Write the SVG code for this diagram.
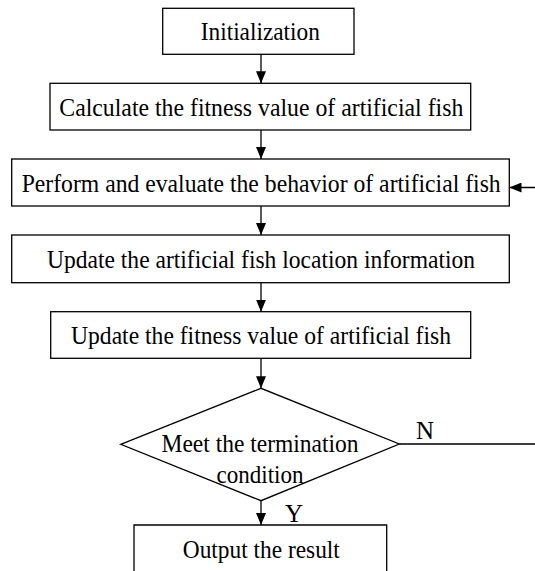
<svg xmlns="http://www.w3.org/2000/svg" width="535" height="571" viewBox="0 0 535 571" font-family="'Liberation Serif', 'Times New Roman', 'DejaVu Serif', serif">
<defs>
<marker id="ah" viewBox="0 0 12 10" refX="12" refY="5" markerWidth="12" markerHeight="10" markerUnits="userSpaceOnUse" orient="auto">
<path d="M0,0 L12,5 L0,10 Z" fill="#000"/>
</marker>
<style>
.box{fill:#fff;stroke:#000;stroke-width:1.3}
.t{font-family:'Liberation Serif','Times New Roman','DejaVu Serif',serif;font-size:26px;fill:#000;text-anchor:middle}
.lbl{font-family:'Liberation Serif','Times New Roman','DejaVu Serif',serif;font-size:25px;fill:#000}
.c{fill:none;stroke:#000;stroke-width:1.3}
</style>
</defs>
<rect width="535" height="571" fill="#fff"/>
<g id="connectors">
<line class="c" x1="261" y1="54.5" x2="261" y2="83.3" marker-end="url(#ah)"/>
<line class="c" x1="261" y1="130" x2="261" y2="159" marker-end="url(#ah)"/>
<line class="c" x1="261" y1="206" x2="261" y2="235" marker-end="url(#ah)"/>
<line class="c" x1="261" y1="282.7" x2="261" y2="311.7" marker-end="url(#ah)"/>
<line class="c" x1="261" y1="358.3" x2="261" y2="388.3" marker-end="url(#ah)"/>
<line class="c" x1="261" y1="500.7" x2="261" y2="525" marker-end="url(#ah)"/>
<path class="c" d="M399.3,444 H536 V187.5 H509.5" marker-end="url(#ah)"/>
<text class="lbl" x="416" y="438.5">N</text>
<text class="lbl" x="285" y="521.7">Y</text>
</g>
<g id="init">
<rect class="box" x="162.7" y="8.3" width="191.3" height="46"/>
<text class="t" x="260.3" y="40" textLength="119" lengthAdjust="spacingAndGlyphs">Initialization</text>
</g>
<g id="calc">
<rect class="box" x="50" y="83.3" width="420.7" height="46.7"/>
<text class="t" x="261.3" y="115.7" textLength="404" lengthAdjust="spacingAndGlyphs">Calculate the fitness value of artificial fish</text>
</g>
<g id="perform">
<rect class="box" x="11.7" y="159" width="497.6" height="47"/>
<text class="t" x="261.2" y="191.5" textLength="479" lengthAdjust="spacingAndGlyphs">Perform and evaluate the behavior of artificial fish</text>
</g>
<g id="update-location">
<rect class="box" x="11.7" y="235" width="497.6" height="47.7"/>
<text class="t" x="261" y="267.8" textLength="428" lengthAdjust="spacingAndGlyphs">Update the artificial fish location information</text>
</g>
<g id="update-fitness">
<rect class="box" x="50.7" y="311.7" width="420" height="46.6"/>
<text class="t" x="261" y="344" textLength="380" lengthAdjust="spacingAndGlyphs">Update the fitness value of artificial fish</text>
</g>
<g id="decision">
<polygon class="box" points="120.7,444.3 261,388.3 399.3,444 261,500.7"/>
<text class="t" x="260" y="452" textLength="197" lengthAdjust="spacingAndGlyphs">Meet the termination</text>
<text class="t" x="260" y="483.3" textLength="87" lengthAdjust="spacingAndGlyphs">condition</text>
</g>
<g id="output">
<path class="box" d="M134,575 V525 H386.7 V575"/>
<text class="t" x="261.3" y="558.3" textLength="157" lengthAdjust="spacingAndGlyphs">Output the result</text>
</g>
</svg>
